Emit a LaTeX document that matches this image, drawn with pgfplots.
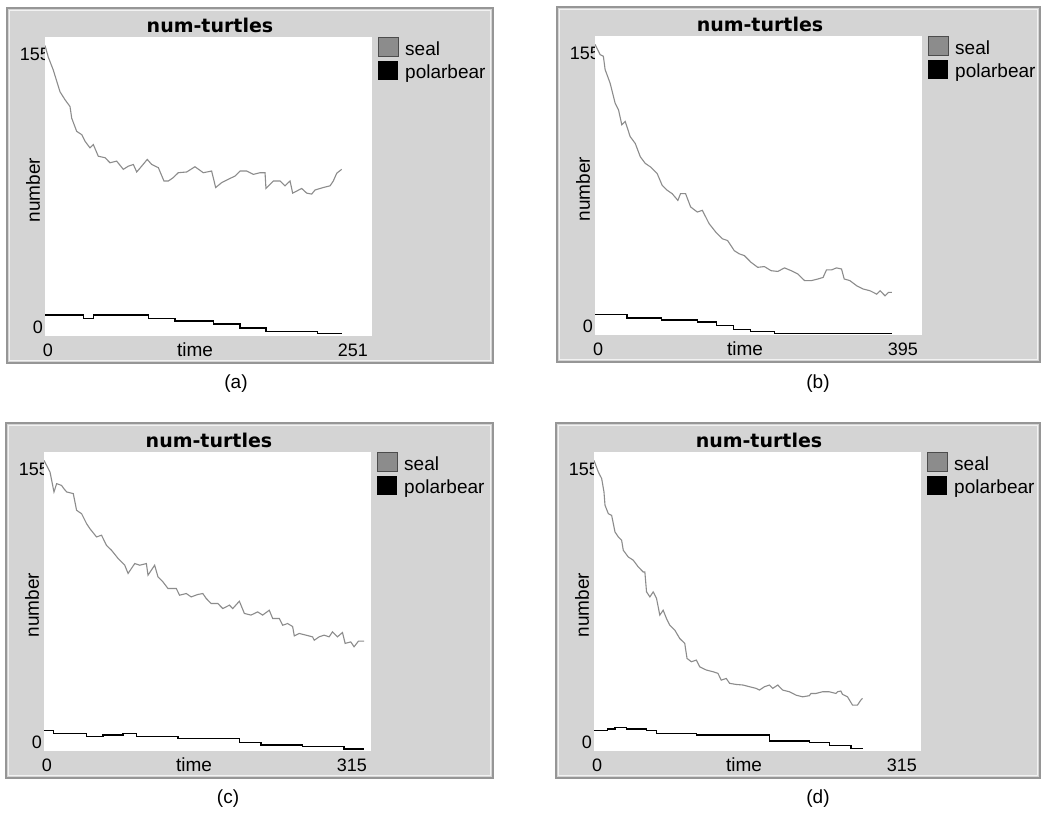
\documentclass[border=0pt]{standalone}
\usepackage{fontspec}
\setmainfont{Liberation Sans}
\newfontfamily\titlefont{DejaVu Sans}
\usepackage{pgfplots}
\pgfplotsset{compat=1.18}

\definecolor{panelgray}{RGB}{212,212,212}
\definecolor{framegray}{RGB}{150,150,150}
\definecolor{sealgray}{RGB}{140,140,140}

\newcommand{\lbl}{\fontsize{19}{21}\selectfont}
\newcommand{\num}{\fontsize{18}{20}\selectfont}

% #1,#2 = top left of the white plot area (px from top left), #3 = right edge of frame, #4 = xmax label
\newcommand{\panelbg}[4]{%
  \fill[panelgray, draw=framegray, line width=1.5pt] (#1-38,820-#2+29) rectangle (#3,820-#2-326);
  \draw[white!70!panelgray, line width=1pt] (#1-35.5,820-#2+26.5) rectangle (#3-2.5,820-#2-323.5);
  \node[font=\titlefont\bfseries\fontsize{19}{21}\selectfont] at (#1+165,820-#2+12) {num-turtles};
  \filldraw[fill=sealgray, draw=black!70, line width=1pt] (#1+333,820-#2-1) rectangle (#1+353,820-#2-20);
  \fill[black] (#1+333,820-#2-24) rectangle (#1+353,820-#2-43);
  \node[anchor=west, font=\lbl, inner sep=0pt] at (#1+360,820-#2-12) {seal};
  \node[anchor=west, font=\lbl, inner sep=0pt] at (#1+360,820-#2-37) {polarbear};
  \node[anchor=east, font=\num, inner sep=0pt] at (#1+5,820-#2-17) {155};
  \node[anchor=east, font=\num, inner sep=0pt] at (#1-2,820-#2-290) {0};
  \node[rotate=90, font=\lbl] at (#1-12,820-#2-153) {number};
  \node[font=\num] at (#1+3,820-#2-313) {0};
  \node[font=\lbl] at (#1+150,820-#2-313) {time};
  \node[anchor=east, font=\num, inner sep=0pt] at (#1+323,820-#2-313) {#4};
}

\pgfplotsset{
  nlplot/.style={
    width=327pt, height=299pt, scale only axis,
    xmin=0, ymin=0, ymax=159.5, ticks=none,
    axis line style={draw=none},
    axis background/.style={fill=white},
  },
  seal/.style={sealgray, line width=1.1pt},
  bear/.style={black, line width=1.4pt, const plot},
}

\begin{document}
\begin{tikzpicture}[x=1pt, y=1pt]
\path[use as bounding box] (0,0) rectangle (1041,820);

% (a)
\panelbg{45}{37}{493}{251}
\begin{axis}[nlplot, at={(45pt,484pt)}, anchor=origin, xmax=251]
\addplot[seal] coordinates {
(0,155) (2.5,148.8) (6.4,141.8) (11.5,130.3) (15.4,126) (19.2,122.4) (20.5,116.2) (24.3,109.2)
(28.2,107.4) (30.7,103.9) (34.5,100.4) (37.1,102.1) (40.9,95.9) (46.1,95.1) (49.9,92.4) (55.0,93.3)
(60.1,88.9) (64.0,90.6) (67.8,91.5) (70.4,87.5) (74.2,90.6) (78.5,94.2) (81.9,91.5) (87.0,89.8)
(91.3,82.7) (94.7,82.7) (98.5,84.5) (102.3,87.1) (108.8,87.5) (115.1,90.3) (121.5,87.1) (127.9,88.0)
(131.0,79.2) (135.6,81.8) (140.7,83.6) (145.8,85.3) (149.7,88.0) (154.8,88.0) (159.9,86.2) (165.0,87.1)
(168.9,87.1) (169.6,78.7) (175.3,82.7) (180.4,82.7) (184.2,80.1) (188.1,82.7) (190.1,76.2) (197.0,78.7)
(200.9,76.2) (204.7,75.7) (207.3,77.9) (213.6,79.2) (218.8,80.1) (221.3,82.7) (223.9,86.8) (227.7,88.9)
};
\addplot[bear] coordinates {
(0,11.3) (29.4,9.2) (37.1,11.3) (79.3,9.2) (99.8,8.1) (129.2,6.5) (149.7,4.2) (169.6,2.5) (209.0,1.2) (227.7,1.2)
};
\end{axis}

% (b)
\panelbg{595}{36}{1040}{395}
\begin{axis}[nlplot, at={(595pt,485pt)}, anchor=origin, xmax=395]
\addplot[seal] coordinates {
(0,155) (6.1,149.6) (10.1,148.7) (12.2,141.6) (18.2,134.4) (24.3,123.7) (28.4,120.1) (32.4,112.1)
(36.5,113.9) (42.5,105.8) (48.6,102.2) (54.7,95.1) (60.8,91.5) (66.9,89.7) (75.0,86.2) (81.1,79.9)
(87.2,77.2) (93.2,75.4) (100.1,71.8) (103.3,75.4) (109.4,75.4) (115.5,68.3) (123.6,65.6) (129.7,66.5)
(137.8,59.4) (145.9,54.9) (154.0,51.3) (160.1,50.4) (168.2,45.0) (174.2,43.3) (180.3,42.4) (188.4,38.8)
(196.5,36.1) (204.6,36.5) (212.7,34.3) (220.8,33.9) (228.9,35.8) (237.0,34.3) (245.1,32.5) (253.2,29.0)
(261.3,29.0) (269.4,29.9) (275.5,30.7) (279.6,34.7) (285.6,34.7) (291.7,35.8) (297.8,35.2) (301.0,29.9)
(307.9,29.0) (316.0,26.3) (324.1,24.5) (332.2,23.6) (340.3,21.8) (344.3,23.6) (350.4,20.9) (354.5,22.7)
(358.5,22.7)
};
\addplot[bear] coordinates {
(0,11) (38.5,9) (80,8) (124,7) (147,5) (167,3) (188,2) (217,0.8) (358.5,0.8)
};
\end{axis}

% (c)
\panelbg{44}{452}{493}{315}
\begin{axis}[nlplot, at={(44pt,69pt)}, anchor=origin, xmax=315]
\addplot[seal] coordinates {
(0,155) (5.8,148.8) (9.6,138.2) (12.2,142.6) (16.9,141.7) (19.2,139.9) (21.8,138.2) (28.2,137.3)
(31.4,128.4) (36.2,126.6) (41.0,121.3) (44.2,118.6) (50.6,114.2) (55.4,115.1) (60.2,109.7) (65.0,107.1)
(71.4,102.7) (77.8,99.1) (81.0,94.7) (87.4,100.0) (92.2,99.1) (98.6,100.0) (100.2,93.8) (106.6,99.1)
(109.8,92.9) (114.6,90.2) (119.4,86.7) (127.4,86.7) (130.6,83.1) (137.0,84.0) (141.8,82.2) (148.2,83.5)
(153.0,84.0) (156.2,81.4) (161.0,78.7) (167.4,78.7) (172.2,76.0) (178.6,77.8) (181.8,76.0) (188.2,79.9)
(193.0,73.4) (199.4,72.5) (205.8,74.2) (210.6,72.5) (217.0,75.1) (220.3,70.7) (226.7,70.7) (229.9,67.1)
(234.7,68.0) (239.5,66.4) (241.1,61.4) (245.9,62.7) (252.3,61.8) (258.7,60.9) (260.3,59.1) (265.1,60.9)
(269.9,61.8) (274.7,60.9) (277.9,63.6) (282.7,60.9) (287.5,63.2) (290.1,57.4) (295.5,58.2) (298.7,55.6)
(302.9,58.6) (308.3,58.6)
};
\addplot[bear] coordinates {
(0,10.8) (9.0,9.4) (41.2,7.6) (57.0,8.5) (76.2,9.4) (89.0,7.6) (129.0,6.8) (188.2,4.4) (209.0,3.2)
(249.0,2.3) (289.1,1.1) (308.3,1.1)
};
\end{axis}

% (d)
\panelbg{594}{452}{1040}{315}
\begin{axis}[nlplot, at={(594pt,69pt)}, anchor=origin, xmax=315]
\addplot[seal] coordinates {
(0,155) (4.2,148.8) (7.4,145.3) (9.6,138.2) (10.6,131.1) (13.8,126.6) (17.0,125.7) (20.2,116.9)
(23.4,114.2) (26.6,112.4) (28.2,107.1) (33.0,103.5) (37.8,101.8) (42.6,98.2) (47.4,95.5) (49.0,95.5)
(50.6,84.9) (53.8,82.2) (57.0,84.9) (60.2,81.4) (63.4,72.5) (66.6,75.1) (69.8,70.7) (73.0,67.1)
(77.8,64.5) (82.6,60.0) (87.4,57.4) (89.6,49.4) (93.8,47.6) (98.6,48.5) (101.8,44.9) (108.2,43.2)
(114.6,42.3) (119.4,41.4) (122.6,37.8) (127.4,38.7) (130.6,36.1) (137.0,35.5) (143.4,35.2) (149.8,34.3)
(156.2,33.4) (159.4,32.5) (164.2,34.3) (169.0,35.2) (172.2,33.4) (177.0,35.2) (181.8,32.5) (188.2,31.6)
(194.6,29.8) (201.0,28.9) (207.4,29.5) (209.0,30.7) (213.8,30.7) (220.2,31.6) (226.6,31.6) (233.0,30.7)
(234.6,31.6) (237.8,32.0) (239.4,30.2) (244.2,28.9) (249.0,24.5) (253.8,24.5) (257.1,27.2) (258.7,28.1)
};
\addplot[bear] coordinates {
(0,10.8) (12.8,11.7) (20.2,12.4) (31.4,11.7) (50.6,10.8) (60.2,9.4) (98.6,8.5) (169.0,5.3) (207.4,4.4)
(226.6,2.8) (247.4,1.4) (258.7,1.4)
};
\end{axis}

% captions
\node[font=\lbl] at (236,436) {(a)};
\node[font=\lbl] at (818,436) {(b)};
\node[font=\lbl] at (228,21) {(c)};
\node[font=\lbl] at (818,21) {(d)};
\end{tikzpicture}
\end{document}
